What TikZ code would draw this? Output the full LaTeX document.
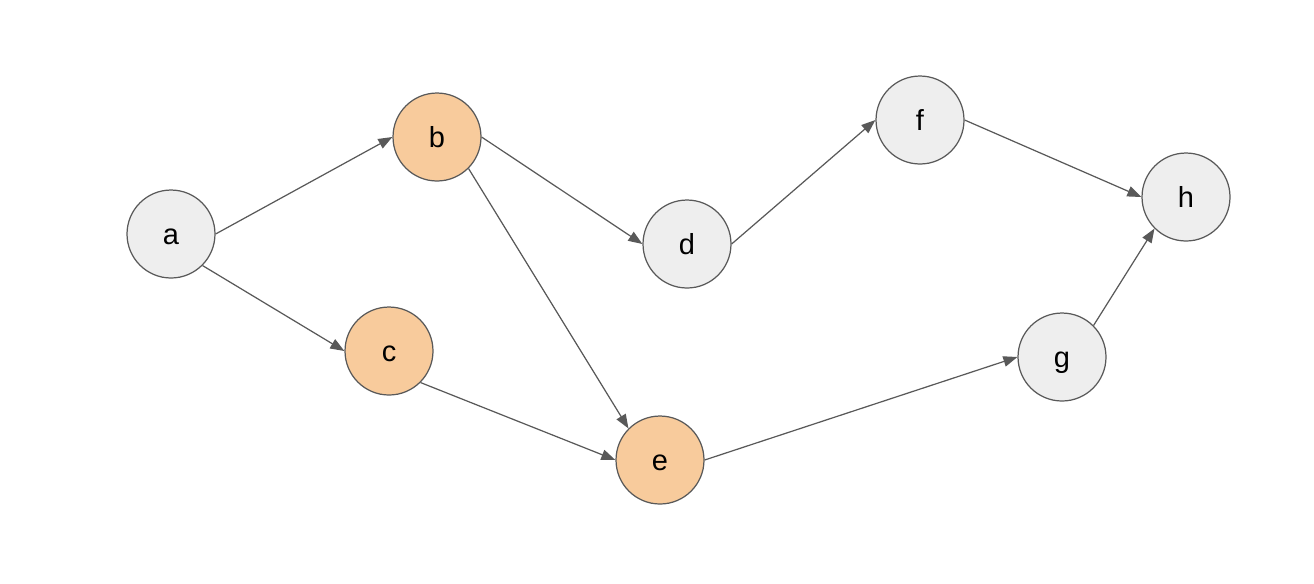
\documentclass[tikz,border=0pt]{standalone}
\usepackage{fontspec}
\setmainfont{Liberation Sans}
\usepackage{xcolor}
\usetikzlibrary{automata, arrows.meta}

\definecolor{nodegray}{HTML}{EEEEEE}
\definecolor{nodeorange}{HTML}{F8CB9C}
\definecolor{linegray}{HTML}{595959}

\begin{document}
\begin{tikzpicture}[x=0.02cm,y=-0.02cm,>={Triangle[length=8pt,width=6pt]},auto]
			\tikzstyle{every state}=[fill=nodegray,draw=linegray,line width=0.7pt,minimum size=1.76cm,inner sep=0pt,text height=12.5pt,text depth=0pt,font=\fontsize{16.5}{19}\selectfont]
			\tikzstyle{crit}=[fill=nodeorange]
			\tikzstyle{every edge}=[draw=linegray,line width=0.7pt]
			\useasboundingbox (0,0) rectangle (1314,583);
			
			\node[state] (a) at (171,234) {a};
			\node[state,crit] (b) at (437,137) {b};
			\node[state,crit] (c) at (389,351) {c};
			\node[state] (d) at (687,244) {d};
			\node[state,crit] (e) at (660,460) {e};
			\node[state] (f) at (920,120) {f};
			\node[state] (g) at (1062,357) {g};
			\node[state] (h) at (1186,197) {h};
			
			\path[->]
			(a.east) edge (b.west)
			(a.south east) edge (c.west)
			(b.east) edge (d.west)
			(b.south east) edge (e.north west)
			(c.south east) edge (e.west)
			(d.east) edge (f.west)
			(e.east) edge (g.west)
			(f.east) edge (h.west)
			(g.north east) edge (h.south west);
		\end{tikzpicture}
\end{document}
